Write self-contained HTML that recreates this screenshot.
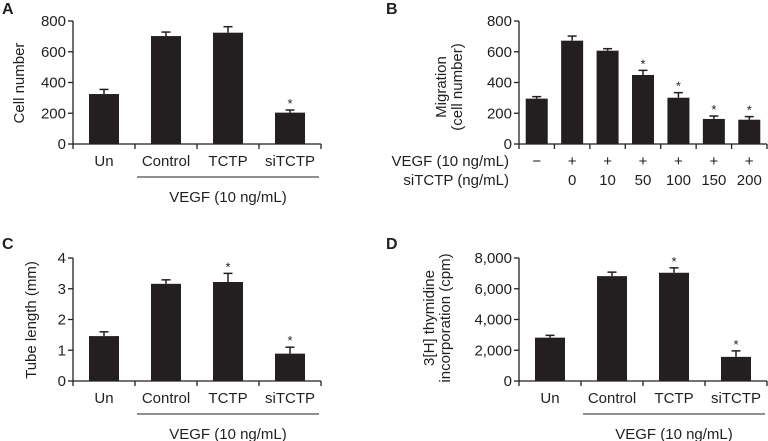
<!DOCTYPE html>
<html><head><meta charset="utf-8"><style>
html,body{margin:0;padding:0;background:#fff;}
svg{display:block;font-family:"Liberation Sans",sans-serif;}
text{fill:#231f20;}
</style></head><body>
<svg id="fig" width="768" height="441" viewBox="0 0 768 441"></svg>
<script>
const catsA=["Un","Control","TCTP","siTCTP"];
const valsA=[325,702,724,204];
const errA=[30,26,39,17];
const starA=[false,false,false,true];
const ticksA=[0,200,400,600,800];

const catsB=["0","10","50","100","150","200"];
const vegfB=["\u2212","+","+","+","+","+","+"];
const siB=["","0","10","50","100","150","200"];
const valsB=[295,672,607,449,301,163,158];
const errB=[13,30,13,30,33,19,20];
const starB=[false,false,false,true,true,true,true];
const ticksB=[0,200,400,600,800];

const catsC=["Un","Control","TCTP","siTCTP"];
const valsC=[1.46,3.16,3.22,0.89];
const errC=[0.14,0.13,0.28,0.21];
const starC=[false,false,true,true];
const ticksC=[0,1,2,3,4];

const catsD=["Un","Control","TCTP","siTCTP"];
const valsD=[2820,6820,7040,1570];
const errD=[150,260,320,390];
const starD=[false,false,true,true];
const ticksD=[0,2000,4000,6000,8000];
const tickLabD=["0","2,000","4,000","6,000","8,000"];

const svg=document.getElementById('fig');
const NS="http://www.w3.org/2000/svg";
function el(tag,attrs,parent){const e=document.createElementNS(NS,tag);for(const k in attrs)e.setAttribute(k,attrs[k]);(parent||svg).appendChild(e);return e;}
function txt(s,x,y,opts,parent){const t=el('text',Object.assign({x:x,y:y,'font-size':14},opts||{}),parent);t.textContent=s;return t;}

function panel(cfg){
  const g=el('g',{});
  
  
  const y0=cfg.y0,y1=cfg.y1,max=cfg.max;
  const ys=v=>y0-(v/max)*(y0-y1);
  const n=cfg.vals.length;
  const step=(cfg.xEnd-cfg.ax)/n;
  const xc=i=>cfg.ax+step*(i+0.5);
  // letter
  const L=txt(cfg.letter,2,cfg.letterY,{'font-size':16,'font-weight':'bold'},g);
  
  
  // axes
  const ya=el('line',{x1:cfg.ax,y1:y1,x2:cfg.ax,y2:y0,stroke:'#231f20','stroke-width':1.3},g);
  
  
  const xa=el('line',{x1:cfg.ax,y1:y0,x2:cfg.xEnd,y2:y0,stroke:'#231f20','stroke-width':1.3},g);
  
  
  cfg.ticks.forEach((t,i)=>{
    el('line',{x1:cfg.ax-5,y1:ys(t),x2:cfg.ax,y2:ys(t),stroke:'#231f20','stroke-width':1.3},g);
    const tl=txt(cfg.tickLab?cfg.tickLab[i]:String(t),cfg.ax-7,ys(t)+5,{'text-anchor':'end','font-size':15},g);
    
    
  });
  for(let i=0;i<=n;i++){const x=cfg.ax+step*i;el('line',{x1:x,y1:y0,x2:x,y2:y0+5,stroke:'#231f20','stroke-width':1.3},g);}
  cfg.vals.forEach((v,i)=>{
    const x=xc(i), w=cfg.bw;
    const et=ys(v+cfg.err[i]);
    el('line',{x1:x,y1:et,x2:x,y2:ys(v),stroke:'#231f20','stroke-width':1.5},g);
    el('line',{x1:x-4.5,y1:et,x2:x+4.5,y2:et,stroke:'#231f20','stroke-width':1.5},g);
    const b=el('rect',{x:x-w/2,y:ys(v),width:w,height:y0-ys(v),fill:'#231f20'},g);
    
    
    if(cfg.star[i]){const s=txt('*',x,et-2,{'text-anchor':'middle','font-size':13},g);
      
      }
  });
  // y title
  const tg=el('g',{transform:'translate('+cfg.tx+','+cfg.ty+') rotate(-90)'},g);
  cfg.title.forEach((s,k)=>{const t=txt(s,0,k*16,{'text-anchor':'middle','font-size':15},tg);
    
    });
  // categories
  if(cfg.cats){
    cfg.cats.forEach((c,i)=>{const t=txt(c,xc(i),y0+22,{'text-anchor':'middle','font-size':15},g);
      
      });
    const ul=el('line',{x1:xc(1)-29,y1:y0+33,x2:xc(3)+29,y2:y0+33,stroke:'#231f20','stroke-width':1},g);
    
    
    const vt=txt('VEGF (10 ng/mL)',(xc(1)+xc(3))/2,y0+58,{'text-anchor':'middle','font-size':15},g);
    
    
  } else {
    vegfB.forEach((c,i)=>txt(c,xc(i),y0+22,{'text-anchor':'middle','font-size':15},g));
    siB.forEach((c,i)=>txt(c,xc(i),y0+41,{'text-anchor':'middle','font-size':15},g));
    const r1=txt('VEGF (10 ng/mL)',509,y0+22,{'text-anchor':'end','font-size':15},g);
    
    
    const r2=txt('siTCTP (ng/mL)',509,y0+41,{'text-anchor':'end','font-size':15},g);
    
    
  }
}
panel({name:'panel-a',letter:'A',letterY:14,vals:valsA,err:errA,star:starA,ticks:ticksA,max:800,y0:144,y1:21,ax:73,xEnd:321,bw:30,cats:catsA,title:['Cell number'],tx:24,ty:83});
panel({name:'panel-b',letter:'',letterY:14,vals:valsB,err:errB,star:starB,ticks:ticksB,max:800,y0:144,y1:21,ax:519,xEnd:767,bw:22,cats:null,title:['Migration','(cell number)'],tx:446,ty:87});
txt('B',386,14,{'font-size':16,'font-weight':'bold'});
panel({name:'panel-c',letter:'C',letterY:249,vals:valsC,err:errC,star:starC,ticks:ticksC,max:4,y0:381,y1:258,ax:73,xEnd:321,bw:30,cats:catsC,title:['Tube length (mm)'],tx:36,ty:320});
panel({name:'panel-d',letter:'',letterY:249,vals:valsD,err:errD,star:starD,ticks:ticksD,tickLab:tickLabD,max:8000,y0:381,y1:258,ax:519,xEnd:767,bw:30,cats:catsD,title:['3[H] thymidine','incorporation (cpm)'],tx:434,ty:318});
txt('D',386,249,{'font-size':16,'font-weight':'bold'});
</script>
</body></html>
